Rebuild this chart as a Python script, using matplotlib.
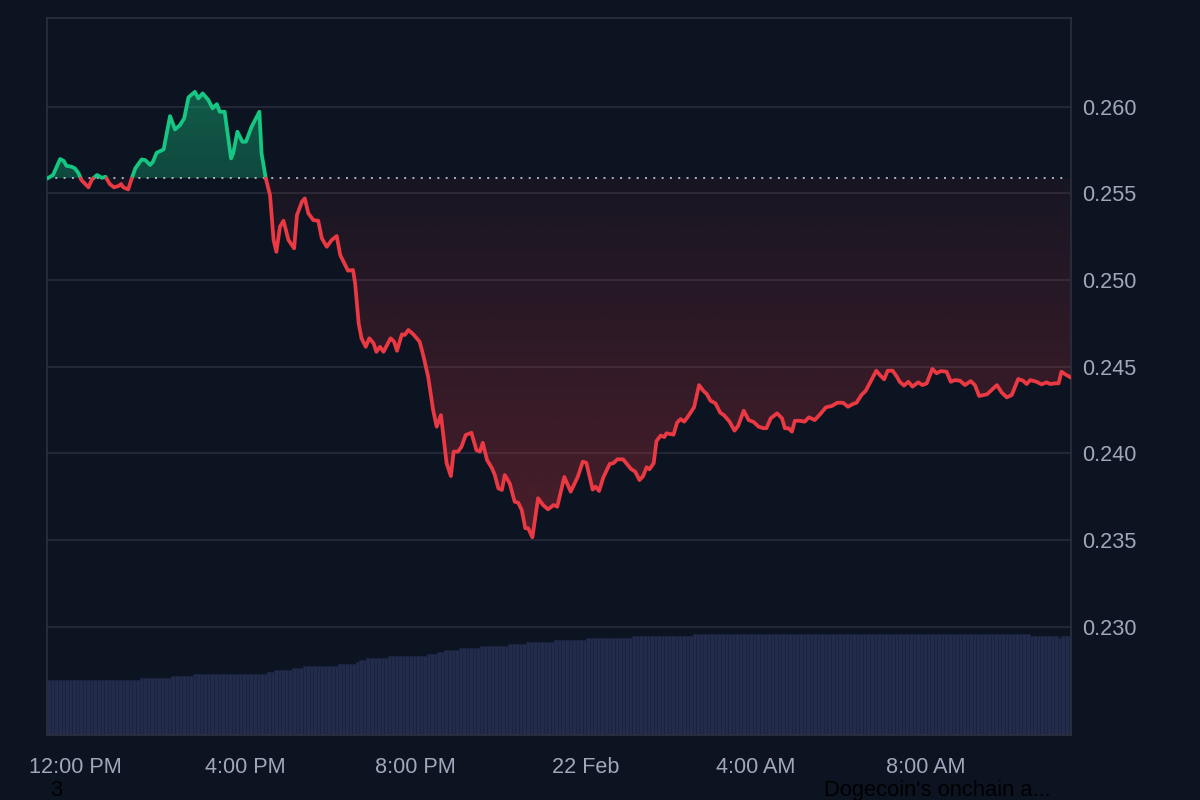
import numpy as np
import matplotlib
matplotlib.use('Agg')
import matplotlib.pyplot as plt
from matplotlib.path import Path
from matplotlib.colors import to_rgb
from matplotlib.ticker import FormatStrFormatter

plt.rcParams['font.family'] = ['Liberation Sans', 'DejaVu Sans']

# minutes after 12:00 PM (21 Feb) and DOGE price in USD
minutes = [-39, -31, -21, -16, -12, -5, 0, 5, 9, 19,
           24, 31, 38, 43, 49, 55, 61, 65, 68, 75,
           80, 85, 94, 99, 106, 110, 115, 125, 134, 141,
           148, 154, 160, 169, 174, 180, 188, 194, 200, 204,
           211, 220, 223, 229, 236, 241, 249, 260, 263, 269,
           275, 280, 284, 289, 294, 301, 309, 313, 320, 324,
           329, 336, 343, 348, 355, 362, 369, 374, 381, 385,
           392, 395, 400, 404, 410, 415, 421, 425, 430, 435,
           445, 450, 454, 461, 465, 470, 477, 486, 491, 498,
           505, 510, 516, 524, 530, 534, 540, 545, 551, 559,
           566, 571, 575, 581, 588, 592, 597, 602, 606, 613,
           620, 625, 630, 635, 639, 645, 653, 660, 667, 675,
           680, 690, 699, 709, 716, 721, 730, 734, 739, 745,
           754, 759, 765, 773, 784, 790, 796, 801, 806, 810,
           816, 820, 826, 831, 834, 844, 849, 854, 859, 864,
           873, 880, 886, 891, 896, 903, 910, 915, 923, 930,
           935, 943, 950, 957, 964, 971, 975, 981, 990, 997,
           1001, 1006, 1011, 1015, 1022, 1029, 1035, 1043, 1051, 1059,
           1067, 1075, 1083, 1090, 1097, 1102, 1109, 1115, 1123, 1130,
           1135, 1141, 1146, 1153, 1159, 1163, 1169, 1175, 1181, 1189,
           1195, 1201, 1209, 1215, 1221, 1229, 1235, 1241, 1248, 1255,
           1263, 1269, 1275, 1286, 1300, 1307, 1314, 1321, 1330, 1337,
           1342, 1347, 1356, 1363, 1370, 1375, 1382, 1387, 1391, 1398, 1404]

price = [0.25585, 0.25605, 0.25697, 0.25687, 0.25658, 0.25653, 0.25643, 0.25615, 0.25576, 0.25534,
         0.25580, 0.25605, 0.25589, 0.25595, 0.25553, 0.25534, 0.25541, 0.25553, 0.25534, 0.25522,
         0.25586, 0.25643, 0.25695, 0.25691, 0.25663, 0.25682, 0.25733, 0.25753, 0.25945, 0.25868,
         0.25893, 0.25932, 0.26053, 0.26085, 0.26047, 0.26076, 0.26038, 0.25990, 0.26014, 0.25970,
         0.25970, 0.25701, 0.25730, 0.25855, 0.25797, 0.25797, 0.25883, 0.25970, 0.25730, 0.25586,
         0.25489, 0.25230, 0.25162, 0.25307, 0.25341, 0.25230, 0.25182, 0.25374, 0.25451, 0.25470,
         0.25384, 0.25345, 0.25341, 0.25240, 0.25191, 0.25230, 0.25253, 0.25143, 0.25086, 0.25053,
         0.25057, 0.24980, 0.24749, 0.24663, 0.24614, 0.24663, 0.24634, 0.24585, 0.24614, 0.24585,
         0.24663, 0.24643, 0.24591, 0.24686, 0.24682, 0.24711, 0.24686, 0.24643, 0.24566, 0.24441,
         0.24249, 0.24153, 0.24220, 0.23942, 0.23868, 0.24009, 0.24009, 0.24037, 0.24105, 0.24118,
         0.24018, 0.24009, 0.24060, 0.23961, 0.23913, 0.23874, 0.23797, 0.23788, 0.23874, 0.23826,
         0.23720, 0.23714, 0.23672, 0.23567, 0.23567, 0.23515, 0.23740, 0.23701, 0.23676, 0.23701,
         0.23691, 0.23863, 0.23778, 0.23864, 0.23951, 0.23945, 0.23790, 0.23807, 0.23782, 0.23860,
         0.23938, 0.23942, 0.23965, 0.23964, 0.23909, 0.23893, 0.23845, 0.23867, 0.23919, 0.23907,
         0.23942, 0.24070, 0.24102, 0.24093, 0.24115, 0.24107, 0.24176, 0.24197, 0.24182, 0.24209,
         0.24265, 0.24393, 0.24360, 0.24341, 0.24303, 0.24288, 0.24233, 0.24220, 0.24182, 0.24130,
         0.24157, 0.24245, 0.24191, 0.24180, 0.24153, 0.24144, 0.24144, 0.24201, 0.24230, 0.24201,
         0.24144, 0.24144, 0.24124, 0.24187, 0.24187, 0.24182, 0.24207, 0.24191, 0.24226, 0.24265,
         0.24272, 0.24291, 0.24291, 0.24268, 0.24284, 0.24291, 0.24336, 0.24360, 0.24422, 0.24476,
         0.24451, 0.24426, 0.24476, 0.24476, 0.24441, 0.24412, 0.24390, 0.24412, 0.24384, 0.24409,
         0.24393, 0.24403, 0.24486, 0.24461, 0.24474, 0.24470, 0.24412, 0.24422, 0.24418, 0.24393,
         0.24416, 0.24393, 0.24330, 0.24340, 0.24393, 0.24349, 0.24322, 0.24336, 0.24428, 0.24418,
         0.24399, 0.24422, 0.24412, 0.24397, 0.24409, 0.24399, 0.24403, 0.24403, 0.24470, 0.24451, 0.24437]

ref_price = 0.25585  # opening price of the window (dotted line)

# 5-minute volume bars, written as runs of equal height (relative units)
vol_levels = [55, 56.7, 58.7, 61, 62.7, 64.7, 66.7, 68.7, 71, 73, 74.7, 76.7, 79, 81,
              82.7, 85, 86.7, 89, 91, 92.7, 95, 96.7, 99, 100.7, 99, 96.7, 99]
vol_counts = [26, 9, 6, 21, 2, 5, 3, 10, 5, 1, 2, 6, 11, 3,
              2, 4, 6, 8, 5, 8, 9, 13, 17, 95, 8, 1, 3]

tick_minutes = [0, 240, 480, 720, 960, 1200]
tick_labels = ['12:00 PM', '4:00 PM', '8:00 PM', '22 Feb', '4:00 AM', '8:00 AM']
price_ticks = [0.230, 0.235, 0.240, 0.245, 0.250, 0.255, 0.260]

BG = '#0d1421'
GREEN = '#16c784'
RED = '#ea3943'
GRID = '#262a38'
SPINE = '#2c303f'
TEXT = '#a1a7bb'

x = np.array(minutes, dtype=float)
p = np.array(price)

# add the points where the line crosses the reference price
xs, ps = [x[0]], [p[0]]
for i in range(1, len(x)):
    a, b = p[i - 1] - ref_price, p[i] - ref_price
    if a * b < 0:
        t = a / (a - b)
        xs.append(x[i - 1] + t * (x[i] - x[i - 1]))
        ps.append(ref_price)
    xs.append(x[i])
    ps.append(p[i])
xs = np.array(xs)
ps = np.array(ps)

fig = plt.figure(figsize=(12, 8), dpi=100, facecolor=BG)
ax = fig.add_axes([0.03917, 0.08125, 0.85333, 0.89625])
axv = ax.twinx()
ax.set_zorder(axv.get_zorder() + 1)
ax.patch.set_visible(False)
axv.set_facecolor(BG)

# volume
vol = np.repeat(vol_levels, vol_counts)
bar_t = minutes[0] + 2.5 + 5 * np.arange(len(vol))
axv.bar(bar_t, vol, width=5, color='#232c4b', edgecolor='#1b2340', linewidth=0.6)
axv.set_ylim(0, 717)
axv.set_yticks([])
for s in axv.spines.values():
    s.set_visible(False)


def gradient_fill(where, color, a_ref, a_far, far):
    poly = ax.fill_between(xs, ps, ref_price, where=where, interpolate=True,
                           facecolor='none', edgecolor='none')
    grad = np.zeros((256, 1, 4))
    grad[:, :, :3] = to_rgb(color)
    lo, hi = min(far, ref_price), max(far, ref_price)
    if far > ref_price:
        grad[:, 0, 3] = np.linspace(a_far, a_ref, 256)
    else:
        grad[:, 0, 3] = np.linspace(a_ref, a_far, 256)
    im = ax.imshow(grad, extent=(xs[0], xs[-1], lo, hi), origin='upper',
                   aspect='auto', zorder=1, interpolation='bilinear')
    path = Path.make_compound_path(*poly.get_paths())
    im.set_clip_path(path, transform=ax.transData)


gradient_fill(ps >= ref_price, GREEN, 0.30, 0.40, ps.max())
gradient_fill(ps <= ref_price, RED, 0.05, 0.28, ps.min())

ax.axhline(ref_price, xmax=0.995, color='#b8bdcc', lw=1.3, ls=(0, (1.1, 3.5)), zorder=2)

green = np.ma.masked_where(ps < ref_price, ps)
red = np.ma.masked_where(ps > ref_price, ps)
ax.plot(xs, green, color=GREEN, lw=2.7, solid_joinstyle='round', solid_capstyle='round', zorder=3)
ax.plot(xs, red, color=RED, lw=2.7, solid_joinstyle='round', solid_capstyle='round', zorder=3)

ax.set_xlim(-39.5, 1404.5)
ax.set_ylim(0.22374, 0.26511)
axv.set_xlim(-39.5, 1404.5)

ax.set_yticks(price_ticks)
ax.yaxis.set_major_formatter(FormatStrFormatter('%.3f'))
ax.yaxis.tick_right()
ax.grid(axis='y', color=GRID, lw=1.3)
ax.set_axisbelow(True)
ax.set_xticks(tick_minutes, tick_labels)
ax.tick_params(axis='y', length=0, pad=8.2, labelsize=15.6, labelcolor=TEXT)
ax.tick_params(axis='x', length=0, pad=16, labelsize=15.6, labelcolor=TEXT)
for s in ax.spines.values():
    s.set_color(SPINE)
    s.set_linewidth(1.2)

fig.text(50 / 1200, 1 - 790.5 / 800, '3', ha='left', va='center', fontsize=15.6, color='#000000')
fig.text(824 / 1200, 1 - 790.5 / 800, "Dogecoin's onchain a...", ha='left', va='center',
         fontsize=15.8, color='#000000')

fig.savefig('out.png', dpi=100, facecolor=BG)
